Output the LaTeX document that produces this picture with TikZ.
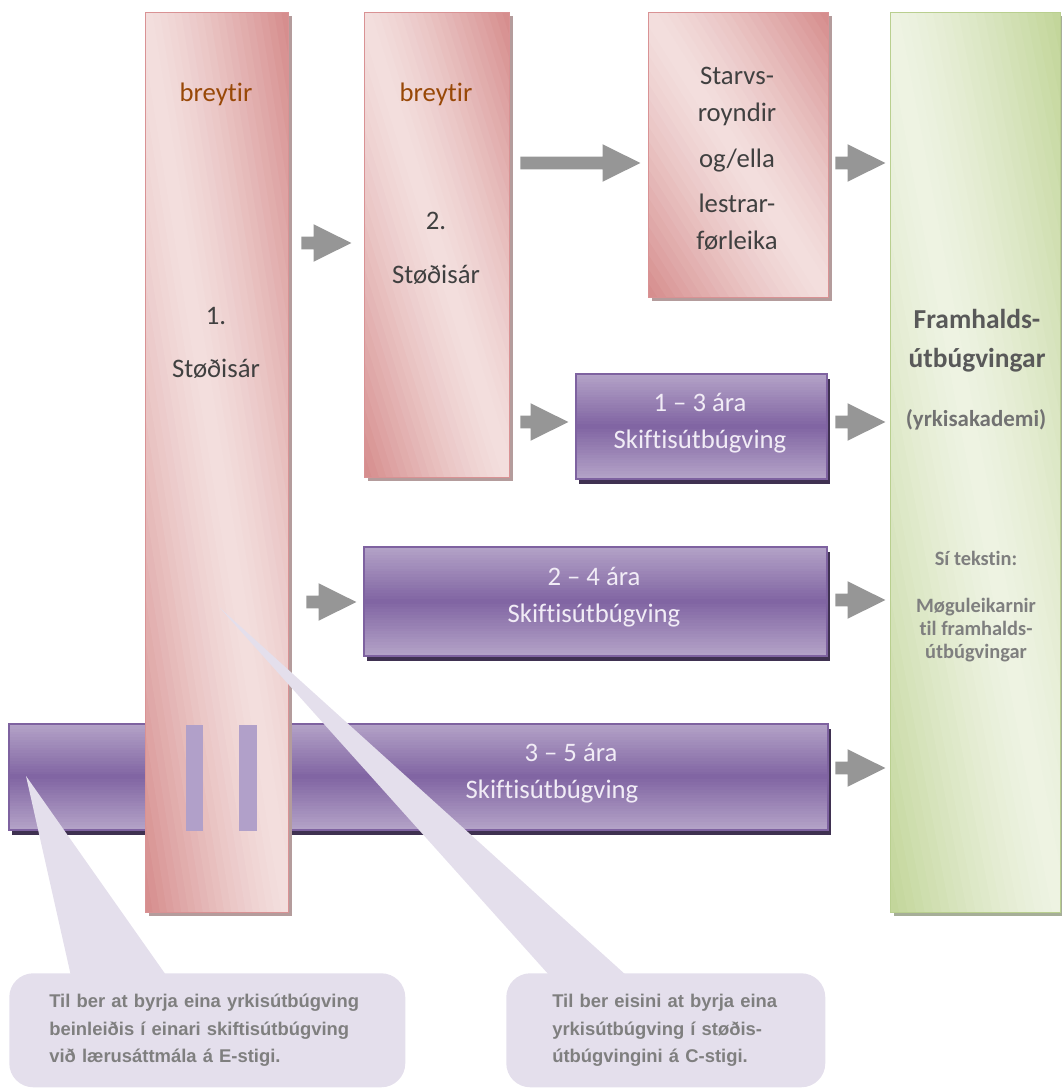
\documentclass[tikz,border=0pt]{standalone}
\usepackage{fontspec}
\setmainfont{Carlito}[Ligatures=CommonOff]
\newfontfamily\notefont{Liberation Sans}
\usetikzlibrary{shapes.arrows,shadows,calc}

\newdimen\pxu
\pxu=0.025cm

\definecolor{pinkL}{HTML}{F3DFDE}
\definecolor{pinkD}{HTML}{D68E8E}
\definecolor{pinkEdge}{HTML}{D99294}
\definecolor{pinkShade}{HTML}{B49C9C}
\definecolor{purL}{HTML}{B3A2C7}
\definecolor{purD}{HTML}{8064A2}
\definecolor{purEdge}{HTML}{7E62A0}
\definecolor{purShade}{HTML}{3F3151}
\definecolor{purBar}{HTML}{B1A0C9}
\definecolor{grnL}{HTML}{EEF3E3}
\definecolor{grnD}{HTML}{C3D69B}
\definecolor{grnEdge}{HTML}{B9CF8F}
\definecolor{grnShade}{HTML}{A6AE98}
\definecolor{arrowgray}{HTML}{969696}
\definecolor{calloutbg}{HTML}{E4DFEC}
\definecolor{calloutfg}{HTML}{7F7F7F}
\definecolor{darktxt}{HTML}{404040}
\definecolor{browntxt}{HTML}{984807}
\definecolor{lighttxt}{HTML}{F1ECF6}
\definecolor{grntxt}{HTML}{595959}
\definecolor{grntxtL}{HTML}{7F7F7F}

\tikzset{
  % dark in two opposite corners, light along the other diagonal
  diagshade/.style 2 args={path picture={
    \coordinate (ppa) at (path picture bounding box.south west);
    \coordinate (ppb) at (path picture bounding box.north east);
    \coordinate (ppc) at (path picture bounding box.north west);
    \coordinate (ppd) at (path picture bounding box.south east);
    \foreach \i in {0,...,39}{
      \pgfmathsetmacro\mix{pow(abs(\i-19.5)/19.5,1.3)*100}
      \pgfmathsetmacro\ta{\i/40}
      \pgfmathsetmacro\tb{(\i+1.3)/40}
      \fill[#1!\mix!#2]
        ($(ppa)!\ta!(ppb)+(ppd)-(ppc)$) -- ($(ppa)!\ta!(ppb)-(ppd)+(ppc)$)
        -- ($(ppa)!\tb!(ppb)-(ppd)+(ppc)$) -- ($(ppa)!\tb!(ppb)+(ppd)-(ppc)$) -- cycle;
    }}},
  % light at top and bottom, dark in the middle
  vshade/.style 2 args={path picture={
    \foreach \i in {0,...,39}{
      \pgfmathsetmacro\mix{abs(\i-19.5)/19.5*100}
      \pgfmathsetmacro\ta{\i/40}
      \pgfmathsetmacro\tb{(\i+1.3)/40}
      \fill[#2!\mix!#1]
        ($(path picture bounding box.north west)!\ta!(path picture bounding box.south west)$) rectangle
        ($(path picture bounding box.north east)!\tb!(path picture bounding box.south east)$);
    }}},
  pinkbox/.style={anchor=north west, inner sep=0, draw=pinkEdge, line width=1.2\pxu,
    diagshade={pinkD}{pinkL},
    general shadow={fill=pinkShade, shadow xshift=3\pxu, shadow yshift=-3\pxu}},
  purbox/.style={anchor=north west, inner sep=0, draw=purEdge, line width=1.6\pxu,
    vshade={purD}{purL},
    general shadow={fill=purShade, shadow xshift=3\pxu, shadow yshift=-5\pxu}},
  grnbox/.style={anchor=north west, inner sep=0, draw=grnEdge, line width=1.2\pxu,
    diagshade={grnD}{grnL},
    general shadow={fill=grnShade, shadow xshift=3\pxu, shadow yshift=-3\pxu}},
  grayarrow/.style={single arrow, fill=arrowgray, anchor=tail, inner xsep=0,
    inner ysep=6\pxu, single arrow head extend=12.5\pxu, single arrow tip angle=53,
    single arrow head indent=0, minimum height=#1},
  boxtxt/.style={anchor=base, inner sep=0, text=darktxt, font=\fontsize{19}{23}\selectfont},
  redtxt/.style={boxtxt, text=browntxt},
  whitetxt/.style={boxtxt, text=lighttxt},
  sidetxt/.style={anchor=base, inner sep=0, text=grntxt, font=\bfseries\fontsize{#1}{#1}\selectfont},
  notebox/.style={anchor=north west, fill=calloutbg, rounded corners=24\pxu, inner ysep=0,
    minimum height=114\pxu, align=left, text=calloutfg,
    font=\notefont\bfseries\fontsize{13.1}{19.6}\selectfont},
}

\begin{document}
\begin{tikzpicture}[x=0.025cm, y=-0.025cm]
  \useasboundingbox (0,0) rectangle (1061,1090);

  % gray block arrows
  \node[grayarrow=50\pxu] (ar1) at (301,243) {};
  \node[grayarrow=120\pxu] (ar2) at (520,163) {};
  \node[grayarrow=50\pxu] (ar3) at (835,163) {};
  \node[grayarrow=48\pxu] (ar4) at (520,422) {};
  \node[grayarrow=50\pxu] (ar5) at (835,422) {};
  \node[grayarrow=50\pxu] (ar6) at (306,602) {};
  \node[grayarrow=50\pxu] (ar7) at (835,600) {};
  \node[grayarrow=50\pxu] (ar8) at (835,768) {};

  % the long bar lies under the first year
  \node[purbox, minimum width=819\pxu, minimum height=106\pxu] (skift35) at (8,723) {};
  \node[whitetxt] (s35a) at (571,761) {3 – 5 ára};
  \node[whitetxt] (s35b) at (552,798) {Skiftisútbúgving};

  \node[pinkbox, minimum width=143\pxu, minimum height=900\pxu] (stod1) at (145,12) {};
  \fill[purBar] (186,725) rectangle (203,831);
  \fill[purBar] (239,725) rectangle (257,831);
  \node[redtxt] (br1) at (216,102) {breytir};
  \node[boxtxt] (nr1) at (216,324) {1.};
  \node[boxtxt] (st1) at (216,377) {Støðisár};

  \node[pinkbox, minimum width=145\pxu, minimum height=465\pxu] (stod2) at (364,12) {};
  \node[redtxt] (br2) at (436,102) {breytir};
  \node[boxtxt] (nr2) at (436,229) {2.};
  \node[boxtxt] (st2) at (436,283) {Støðisár};

  \node[pinkbox, minimum width=180\pxu, minimum height=285\pxu] (starv) at (648,12) {};
  \node[boxtxt] (sv1) at (737,85) {Starvs-};
  \node[boxtxt] (sv2) at (737,122) {royndir};
  \node[boxtxt] (sv3) at (737,167) {og/ella};
  \node[boxtxt] (sv4) at (737,212) {lestrar-};
  \node[boxtxt] (sv5) at (737,249) {førleika};

  \node[purbox, minimum width=251\pxu, minimum height=105\pxu] (skift13) at (575,373) {};
  \node[whitetxt] (s13a) at (700,411) {1 – 3 ára};
  \node[whitetxt] (s13b) at (700,448) {Skiftisútbúgving};

  \node[purbox, minimum width=463\pxu, minimum height=109\pxu] (skift24) at (363,546) {};
  \node[whitetxt] (s24a) at (594,585) {2 – 4 ára};
  \node[whitetxt] (s24b) at (594,622) {Skiftisútbúgving};

  \node[grnbox, minimum width=170\pxu, minimum height=900\pxu] (framh) at (890,12) {};
  \node[sidetxt=19.5pt] (fr1) at (977,328) {Framhalds-};
  \node[sidetxt=19.5pt] (fr2) at (977,367) {útbúgvingar};
  \node[sidetxt=16.3pt, text=grntxt!85!white] (fr3) at (976,426) {(yrkisakademi)};
  \node[sidetxt=14.5pt, text=grntxtL] (fr4) at (976,565) {Sí tekstin:};
  \node[sidetxt=14.5pt, text=grntxtL] (fr5) at (976,612) {Møguleikarnir};
  \node[sidetxt=14.5pt, text=grntxtL] (fr6) at (976,635) {til framhalds-};
  \node[sidetxt=14.5pt, text=grntxtL] (fr7) at (976,658) {útbúgvingar};

  % callouts
  \node[notebox, inner xsep=40\pxu, text width=316\pxu] (note1) at (9,973)
    {Til ber at byrja eina yrkisútbúgving\\beinleiðis í einari skiftisútbúgving\\við lærusáttmála á E-stigi.};
  \node[notebox, inner xsep=46\pxu, text width=227\pxu] (note2) at (506,973)
    {Til ber eisini at byrja eina\\yrkisútbúgving í støðis-\\útbúgvingini á C-stigi.};
  \coordinate (tip1) at (26,776);
  \coordinate (tip2) at (220,608);
  \fill[calloutbg] (tip1) -- ($(note1.north west)+(64,12)$) -- ($(note1.north west)+(164,12)$) -- cycle;
  \fill[calloutbg] (tip2) -- ($(note2.north west)+(52,12)$) -- ($(note2.north west)+(131,12)$) -- cycle;
\end{tikzpicture}
\end{document}
